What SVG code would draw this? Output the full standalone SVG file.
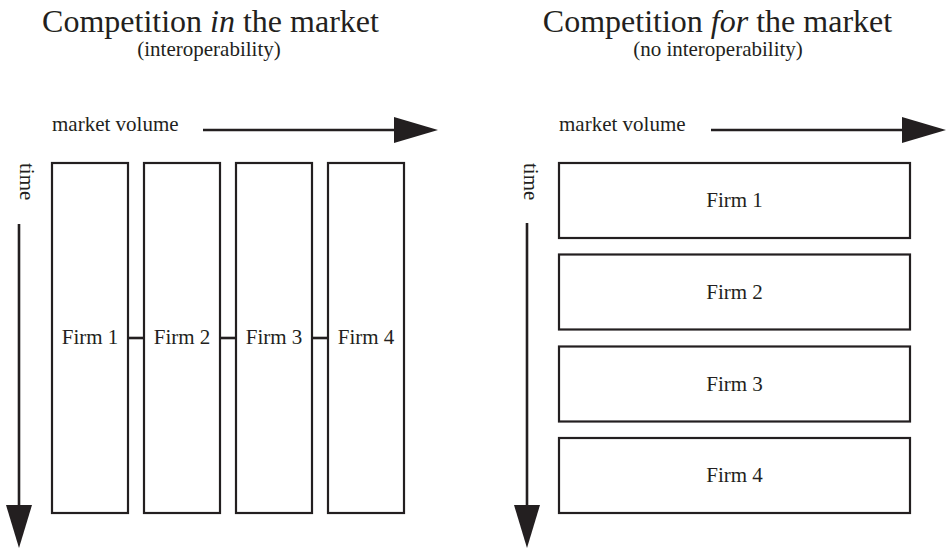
<svg xmlns="http://www.w3.org/2000/svg" width="948" height="549" viewBox="0 0 948 549">
<style>
text{font-family:"Liberation Serif","Times New Roman",serif;fill:#231f20}
.title{font-size:32px}
.sub{font-size:21px}
.lbl{font-size:21px}
.box{fill:#fff;stroke:#231f20;stroke-width:2.2}
.ln{stroke:#231f20;stroke-width:2.6;fill:none}
.head{fill:#231f20}
</style>
<rect width="948" height="549" fill="#fff"/>
<g id="left-title">
<text class="title" x="210.5" y="31.5" text-anchor="middle">Competition <tspan font-style="italic">in</tspan> the market</text>
<text class="sub" x="209" y="56" text-anchor="middle">(interoperability)</text>
</g>
<g id="right-title">
<text class="title" x="717.5" y="31.5" text-anchor="middle">Competition <tspan font-style="italic">for</tspan> the market</text>
<text class="sub" x="718" y="56" text-anchor="middle">(no interoperability)</text>
</g>
<g id="axes">
<text class="lbl" x="52" y="131">market volume</text>
<line class="ln" x1="203" y1="130" x2="396" y2="130"/>
<polygon class="head" points="394,117 438,130 394,143"/>
<text class="lbl" x="20" y="163" transform="rotate(90 20 163)">time</text>
<line class="ln" x1="19" y1="224" x2="19" y2="507"/>
<polygon class="head" points="6,505 19,548 32,505"/>
<text class="lbl" x="559" y="131">market volume</text>
<line class="ln" x1="711" y1="130" x2="904" y2="130"/>
<polygon class="head" points="902,117 946,130 902,143"/>
<text class="lbl" x="524" y="163" transform="rotate(90 524 163)">time</text>
<line class="ln" x1="527" y1="223" x2="527" y2="507"/>
<polygon class="head" points="514,505 527,548 540,505"/>
</g>
<g id="connectors">
<line class="ln" x1="128" y1="338" x2="144" y2="338"/>
<line class="ln" x1="220" y1="338" x2="236" y2="338"/>
<line class="ln" x1="312" y1="338" x2="328" y2="338"/>
</g>
<g id="left-firm1"><rect class="box" x="52" y="163" width="76" height="350"/><text class="lbl" x="90" y="344" text-anchor="middle">Firm 1</text></g>
<g id="left-firm2"><rect class="box" x="144" y="163" width="76" height="350"/><text class="lbl" x="182" y="344" text-anchor="middle">Firm 2</text></g>
<g id="left-firm3"><rect class="box" x="236" y="163" width="76" height="350"/><text class="lbl" x="274" y="344" text-anchor="middle">Firm 3</text></g>
<g id="left-firm4"><rect class="box" x="328" y="163" width="76" height="350"/><text class="lbl" x="366" y="344" text-anchor="middle">Firm 4</text></g>
<g id="right-firm1"><rect class="box" x="559" y="163" width="351" height="75"/><text class="lbl" x="734.5" y="207" text-anchor="middle">Firm 1</text></g>
<g id="right-firm2"><rect class="box" x="559" y="254.5" width="351" height="75"/><text class="lbl" x="734.5" y="298.5" text-anchor="middle">Firm 2</text></g>
<g id="right-firm3"><rect class="box" x="559" y="346.5" width="351" height="75"/><text class="lbl" x="734.5" y="390.5" text-anchor="middle">Firm 3</text></g>
<g id="right-firm4"><rect class="box" x="559" y="438" width="351" height="75"/><text class="lbl" x="734.5" y="482" text-anchor="middle">Firm 4</text></g>
</svg>
